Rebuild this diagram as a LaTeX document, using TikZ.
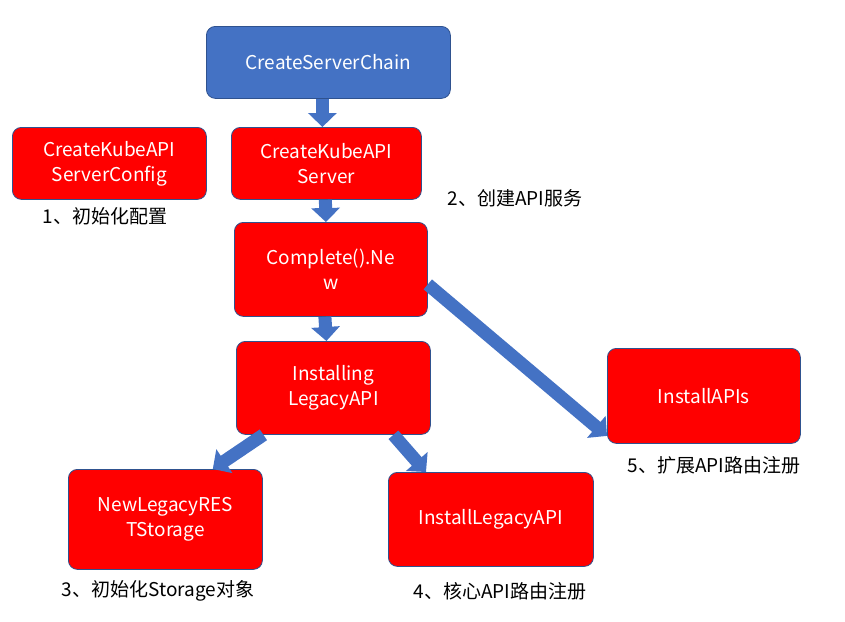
\documentclass[tikz,border=0pt]{standalone}
\usepackage{fontspec}
\setmainfont{Noto Sans CJK SC}
\usetikzlibrary{arrows.meta,positioning}
\definecolor{boxblue}{HTML}{4472C4}
\definecolor{edgeblue}{HTML}{2F528F}
\tikzset{
	every node/.style={
		font=\fontsize{19}{25}\selectfont
	},
	stage/.style={
		shape=rectangle,
		fill=red,
		draw=edgeblue,
		line width=0.8pt,
		rounded corners=9pt,
		text=white,
		align=center,
		anchor=north west
	},
	note/.style={
		text=black
	},
	flow/.style={
		draw=boxblue,
		line width=13pt,
		-{Triangle[width=28pt,length=14pt]}
	}
}
\begin{document}
\begin{tikzpicture}[x=1pt,y=-1pt]
	\useasboundingbox (0,0) rectangle (845,621);
	
	% boxes
	\node[stage, fill=boxblue, minimum width=244pt, minimum height=72pt] (chain) at (206,26) {CreateServerChain};
	\node[stage, minimum width=194pt, minimum height=72pt] (config) at (12,127) {CreateKubeAPI\\ServerConfig};
	\node[stage, minimum width=190pt, minimum height=72pt] (server) at (231,127) {CreateKubeAPI\\Server};
	\node[stage, minimum width=193pt, minimum height=94pt] (complete) at (234,222) {Complete().Ne\\w};
	\node[stage, minimum width=194pt, minimum height=93pt] (legacy) at (236,341) {Installing\\LegacyAPI};
	\node[stage, minimum width=193pt, minimum height=95pt] (apis) at (607,348) {InstallAPIs};
	\node[stage, minimum width=194pt, minimum height=100pt] (storage) at (68,469) {NewLegacyRES\\TStorage};
	\node[stage, minimum width=205pt, minimum height=94pt] (install) at (388,472) {InstallLegacyAPI};
	
	% notes
	\node[note] (n1) at (105,216) {1、初始化配置};
	\node[note] (n2) at (515,198) {2、创建API服务};
	\node[note] (n3) at (158,591) {3、初始化Storage对象};
	\node[note] (n4) at (500,591) {4、核心API路由注册};
	\node[note] (n5) at (714,465) {5、扩展API路由注册};
	
	% arrows
	\draw[flow] ([xshift=-6pt]chain.south) -- ([xshift=-4pt]server.north);
	\draw[flow] ([xshift=-1pt]server.south) -- ([xshift=-5pt]complete.north);
	\draw[flow] ([xshift=-6pt]complete.south) -- ([xshift=-7pt]legacy.north);
	\draw[flow] ([yshift=-15pt]complete.east) -- ([yshift=-40pt]apis.west);
	\draw[flow] ([xshift=-70pt]legacy.south) -- ([xshift=-50pt]storage.north east);
	\draw[flow] ([xshift=60pt]legacy.south) -- ([xshift=38pt]install.north west);
\end{tikzpicture}
\end{document}
